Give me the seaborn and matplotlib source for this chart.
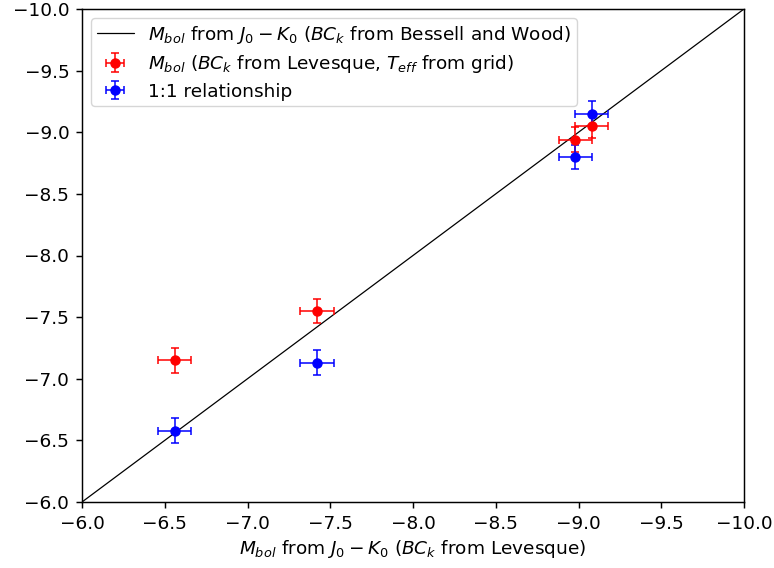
import matplotlib
matplotlib.use("Agg")
import matplotlib.pyplot as plt
import seaborn as sns
import numpy as np
import pandas as pd

# Bolometric magnitudes: x from J0-K0 with Levesque BC_k
x_mbol = [-6.56, -7.42, -8.98, -9.08]
# M_bol with BC_k from Levesque and T_eff from grid
y_red = [-7.15, -7.55, -8.94, -9.05]
# 1:1 relationship comparison values
y_blue = [-6.58, -7.13, -8.80, -9.15]
x_err = [0.10, 0.10, 0.10, 0.10]
y_err = [0.10, 0.10, 0.10, 0.10]

# Diagonal reference line endpoints
diag = [-6.0, -10.0]

ticks = [-6.0, -6.5, -7.0, -7.5, -8.0, -8.5, -9.0, -9.5, -10.0]

sns.set_style("ticks")
plt.rcParams["font.family"] = ["DejaVu Sans"]
plt.rcParams["text.color"] = "black"
plt.rcParams["axes.labelcolor"] = "black"
plt.rcParams["axes.edgecolor"] = "black"
plt.rcParams["axes.linewidth"] = 1.05
plt.rcParams["xtick.color"] = "black"
plt.rcParams["ytick.color"] = "black"

FS = 13.3

fig = plt.figure(figsize=(7.74, 5.68), dpi=100)
ax = fig.add_axes([82 / 774, 1 - 502 / 568, 662 / 774, 493 / 568])

line_df = pd.DataFrame({"x": diag, "y": diag})
sns.lineplot(data=line_df, x="x", y="y", color="black", linewidth=0.9, ax=ax,
             label=r"$M_{bol}$ from $J_0-K_0$ ($BC_k$ from Bessell and Wood)")

ax.errorbar(x_mbol, y_red, xerr=x_err, yerr=y_err, fmt="o", color="red",
            ecolor="red", elinewidth=1.1, capsize=3.2, capthick=1.1,
            markersize=6.5,
            label=r"$M_{bol}$ ($BC_k$ from Levesque, $T_{eff}$ from grid)")
ax.errorbar(x_mbol, y_blue, xerr=x_err, yerr=y_err, fmt="o", color="blue",
            ecolor="blue", elinewidth=1.1, capsize=3.2, capthick=1.1,
            markersize=6.5, label="1:1 relationship")

ax.set_xlim(-6, -10)
ax.set_ylim(-6, -10)
ax.set_xticks(ticks)
ax.set_yticks(ticks)
ax.tick_params(labelsize=FS, direction="out", length=4.6, width=1.05, pad=4.5)
ax.set_xlabel(r"$M_{bol}$ from $J_0-K_0$ ($BC_k$ from Levesque)", fontsize=FS,
              labelpad=4)
ax.set_ylabel("")

ax.legend(loc="upper left", fontsize=FS, frameon=True, fancybox=True,
          edgecolor="#cccccc", framealpha=0.8, labelspacing=0.4,
          borderpad=0.3, borderaxespad=0.5)

fig.savefig("out.png", dpi=100)
